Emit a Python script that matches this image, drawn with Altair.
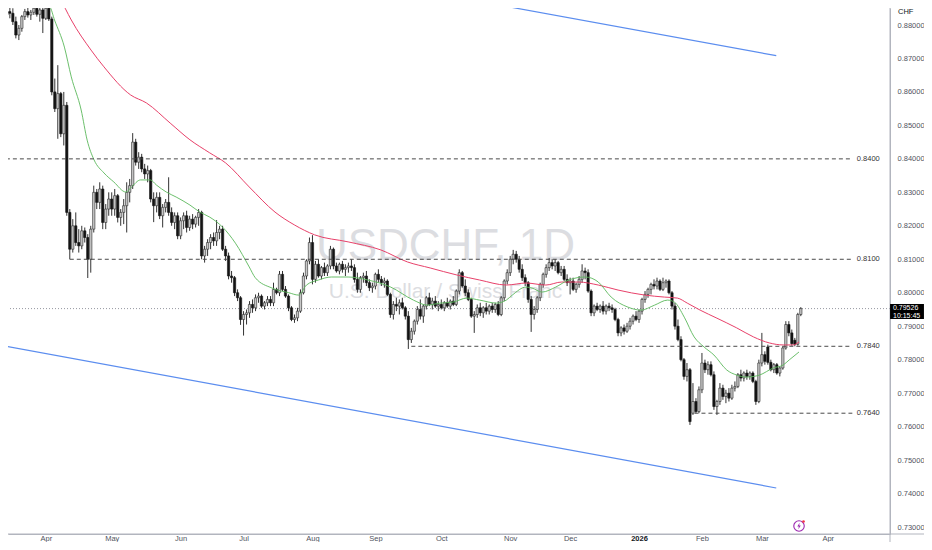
import altair as alt
import pandas as pd

# ---------------- daily OHLC (bar index 0 = 13 Mar 2025) ----------------
opens = [
0.8830,0.8840,0.8835,0.8810,0.8770,0.8790,0.8825,0.8840,0.8830,0.8838,
0.8850,0.8832,0.8845,0.8820,0.8850,0.8818,0.8600,0.8550,0.8595,0.8475,
0.8560,0.8240,0.8130,0.8200,0.8150,0.8140,0.8185,0.8165,0.8100,0.8190,
0.8300,0.8270,0.8310,0.8210,0.8250,0.8280,0.8250,0.8290,0.8225,0.8240,
0.8260,0.8300,0.8320,0.8450,0.8390,0.8405,0.8370,0.8355,0.8365,0.8280,
0.8260,0.8285,0.8230,0.8255,0.8270,0.8240,0.8210,0.8230,0.8170,0.8215,
0.8230,0.8195,0.8220,0.8205,0.8225,0.8240,0.8110,0.8130,0.8150,0.8165,
0.8155,0.8180,0.8190,0.8130,0.8110,0.8050,0.8045,0.8000,0.7985,0.7920,
0.7935,0.7940,0.7965,0.7955,0.7985,0.7990,0.7960,0.7970,0.7980,0.7970,
0.8010,0.8000,0.8055,0.8010,0.7990,0.7955,0.7920,0.7925,0.7945,0.8000,
0.8050,0.8095,0.8150,0.8040,0.8085,0.8050,0.8075,0.8060,0.8080,0.8130,
0.8080,0.8065,0.8085,0.8070,0.8075,0.8080,0.8075,0.8040,0.8010,0.8045,
0.8050,0.8030,0.8015,0.8020,0.8055,0.8040,0.8030,0.8035,0.7995,0.7935,
0.7965,0.7960,0.7970,0.7955,0.7930,0.7860,0.7885,0.7915,0.7950,0.7930,
0.7960,0.7985,0.7965,0.7975,0.7960,0.7965,0.7955,0.7970,0.7960,0.7975,
0.7965,0.8005,0.8060,0.8020,0.8000,0.7980,0.7930,0.7935,0.7955,0.7940,
0.7955,0.7945,0.7960,0.7950,0.7965,0.7935,0.7985,0.8035,0.8060,0.8100,
0.8115,0.8100,0.8070,0.8045,0.8030,0.7980,0.7935,0.7950,0.7985,0.8025,
0.8055,0.8075,0.8090,0.8080,0.8090,0.8060,0.8070,0.8040,0.8030,0.8035,
0.8010,0.8025,0.8040,0.8065,0.8060,0.8005,0.7940,0.7960,0.7950,0.7960,
0.7945,0.7960,0.7955,0.7950,0.7920,0.7880,0.7895,0.7885,0.7900,0.7915,
0.7930,0.7920,0.7945,0.7980,0.7995,0.8010,0.8025,0.8020,0.8035,0.8010,
0.8030,0.8035,0.8000,0.7960,0.7900,0.7860,0.7800,0.7750,0.7770,0.7640,
0.7675,0.7645,0.7710,0.7790,0.7770,0.7785,0.7755,0.7660,0.7675,0.7715,
0.7690,0.7700,0.7685,0.7715,0.7720,0.7755,0.7745,0.7760,0.7750,0.7760,
0.7735,0.7675,0.7790,0.7815,0.7838,0.7792,0.7770,0.7785,0.7760,0.7775,
0.7835,0.7905,0.7880,0.7858,0.7846,0.7935]

highs = [
0.8855,0.8858,0.8850,0.8825,0.8800,0.8830,0.8848,0.8855,0.8845,0.8860,
0.8862,0.8855,0.8858,0.8860,0.8862,0.8825,0.8640,0.8680,0.8600,0.8600,
0.8570,0.8250,0.8220,0.8240,0.8190,0.8200,0.8195,0.8175,0.8200,0.8320,
0.8310,0.8330,0.8320,0.8265,0.8300,0.8300,0.8310,0.8295,0.8250,0.8280,
0.8330,0.8340,0.8477,0.8460,0.8420,0.8415,0.8385,0.8380,0.8370,0.8300,
0.8300,0.8300,0.8265,0.8280,0.8345,0.8255,0.8240,0.8240,0.8225,0.8240,
0.8245,0.8230,0.8235,0.8230,0.8250,0.8245,0.8140,0.8160,0.8175,0.8180,
0.8217,0.8200,0.8200,0.8140,0.8120,0.8065,0.8050,0.8010,0.7990,0.7945,
0.7950,0.7975,0.7980,0.7995,0.8000,0.7995,0.7975,0.7990,0.7990,0.8030,
0.8015,0.8065,0.8065,0.8020,0.7995,0.7960,0.7935,0.7955,0.8010,0.8060,
0.8100,0.8165,0.8172,0.8095,0.8100,0.8080,0.8090,0.8085,0.8140,0.8135,
0.8090,0.8090,0.8095,0.8085,0.8090,0.8100,0.8085,0.8060,0.8050,0.8060,
0.8065,0.8040,0.8030,0.8060,0.8070,0.8050,0.8045,0.8040,0.8000,0.7975,
0.7985,0.7980,0.7985,0.7960,0.7945,0.7895,0.7920,0.7960,0.7980,0.7965,
0.7990,0.8000,0.7985,0.7990,0.7975,0.7980,0.7975,0.7985,0.7980,0.7990,
0.8010,0.8070,0.8065,0.8040,0.8010,0.7985,0.7945,0.7965,0.7970,0.7960,
0.7970,0.7965,0.7970,0.7970,0.7975,0.7990,0.8040,0.8070,0.8110,0.8128,
0.8125,0.8110,0.8085,0.8055,0.8035,0.7990,0.7960,0.7990,0.8030,0.8060,
0.8085,0.8104,0.8100,0.8100,0.8095,0.8080,0.8080,0.8055,0.8045,0.8045,
0.8030,0.8050,0.8085,0.8075,0.8070,0.8010,0.7965,0.7970,0.7965,0.7975,
0.7965,0.7970,0.7965,0.7955,0.7925,0.7900,0.7905,0.7910,0.7925,0.7935,
0.7945,0.7950,0.7985,0.8005,0.8015,0.8030,0.8040,0.8045,0.8040,0.8045,
0.8040,0.8040,0.8005,0.7970,0.7920,0.7870,0.7805,0.7790,0.7775,0.7730,
0.7685,0.7720,0.7820,0.7800,0.7795,0.7795,0.7765,0.7680,0.7730,0.7725,
0.7710,0.7715,0.7725,0.7735,0.7760,0.7770,0.7765,0.7770,0.7765,0.7765,
0.7740,0.7800,0.7880,0.7825,0.7845,0.7800,0.7790,0.7790,0.7780,0.7840,
0.7915,0.7915,0.7890,0.7865,0.7940,0.7957]

lows = [
0.8815,0.8820,0.8800,0.8760,0.8755,0.8780,0.8815,0.8822,0.8815,0.8830,
0.8825,0.8810,0.8776,0.8815,0.8812,0.8590,0.8540,0.8460,0.8465,0.8440,
0.8230,0.8100,0.8120,0.8140,0.8120,0.8130,0.8150,0.8044,0.8060,0.8180,
0.8250,0.8250,0.8190,0.8190,0.8230,0.8230,0.8230,0.8210,0.8200,0.8205,
0.8180,0.8270,0.8310,0.8380,0.8370,0.8360,0.8340,0.8330,0.8270,0.8211,
0.8240,0.8220,0.8195,0.8240,0.8230,0.8200,0.8190,0.8160,0.8160,0.8190,
0.8180,0.8185,0.8190,0.8195,0.8200,0.8100,0.8090,0.8110,0.8130,0.8140,
0.8140,0.8160,0.8125,0.8095,0.8040,0.8030,0.7990,0.7975,0.7904,0.7872,
0.7905,0.7925,0.7940,0.7945,0.7970,0.7955,0.7950,0.7960,0.7960,0.7960,
0.7995,0.7990,0.8005,0.7985,0.7945,0.7915,0.7910,0.7915,0.7940,0.7995,
0.8040,0.8085,0.8025,0.8030,0.8045,0.8040,0.8050,0.8050,0.8070,0.8070,
0.8060,0.8055,0.8060,0.8050,0.8060,0.8065,0.8030,0.8000,0.8000,0.8030,
0.8020,0.8005,0.8000,0.8010,0.8030,0.8020,0.8015,0.7990,0.7925,0.7920,
0.7945,0.7935,0.7950,0.7920,0.7832,0.7850,0.7875,0.7905,0.7920,0.7910,
0.7950,0.7960,0.7950,0.7955,0.7945,0.7950,0.7945,0.7955,0.7950,0.7960,
0.7960,0.7995,0.8015,0.7990,0.7975,0.7925,0.7880,0.7925,0.7930,0.7925,
0.7935,0.7935,0.7940,0.7940,0.7930,0.7930,0.7975,0.8025,0.8050,0.8085,
0.8090,0.8060,0.8035,0.8020,0.7970,0.7883,0.7920,0.7940,0.7975,0.8015,
0.8045,0.8065,0.8070,0.8065,0.8055,0.8050,0.8035,0.8020,0.7995,0.8005,
0.8000,0.8015,0.8030,0.8040,0.8000,0.7930,0.7930,0.7945,0.7940,0.7935,
0.7935,0.7945,0.7940,0.7915,0.7870,0.7870,0.7875,0.7880,0.7890,0.7905,
0.7915,0.7910,0.7935,0.7970,0.7985,0.7995,0.8010,0.8010,0.8005,0.8005,
0.8015,0.7995,0.7950,0.7890,0.7855,0.7795,0.7740,0.7735,0.7605,0.7635,
0.7640,0.7640,0.7700,0.7760,0.7755,0.7750,0.7650,0.7635,0.7665,0.7680,
0.7670,0.7675,0.7680,0.7705,0.7715,0.7735,0.7735,0.7740,0.7740,0.7730,
0.7665,0.7670,0.7780,0.7785,0.7785,0.7765,0.7760,0.7755,0.7750,0.7770,
0.7830,0.7870,0.7842,0.7840,0.7842,0.7930]

closes = [
0.8840,0.8835,0.8810,0.8770,0.8790,0.8825,0.8840,0.8830,0.8838,0.8850,
0.8832,0.8845,0.8820,0.8850,0.8818,0.8600,0.8550,0.8595,0.8475,0.8560,
0.8240,0.8130,0.8200,0.8150,0.8140,0.8185,0.8165,0.8100,0.8190,0.8300,
0.8270,0.8310,0.8210,0.8250,0.8280,0.8250,0.8290,0.8225,0.8240,0.8260,
0.8300,0.8320,0.8450,0.8390,0.8405,0.8370,0.8355,0.8365,0.8280,0.8260,
0.8285,0.8230,0.8255,0.8270,0.8240,0.8210,0.8230,0.8170,0.8215,0.8230,
0.8195,0.8220,0.8205,0.8225,0.8240,0.8110,0.8130,0.8150,0.8165,0.8155,
0.8180,0.8190,0.8130,0.8110,0.8050,0.8045,0.8000,0.7985,0.7920,0.7935,
0.7940,0.7965,0.7955,0.7985,0.7990,0.7960,0.7970,0.7980,0.7970,0.8010,
0.8000,0.8055,0.8010,0.7990,0.7955,0.7920,0.7925,0.7945,0.8000,0.8050,
0.8095,0.8150,0.8040,0.8085,0.8050,0.8075,0.8060,0.8080,0.8130,0.8080,
0.8065,0.8085,0.8070,0.8075,0.8080,0.8075,0.8040,0.8010,0.8045,0.8050,
0.8030,0.8015,0.8020,0.8055,0.8040,0.8030,0.8035,0.7995,0.7935,0.7965,
0.7960,0.7970,0.7955,0.7930,0.7860,0.7885,0.7915,0.7950,0.7930,0.7960,
0.7985,0.7965,0.7975,0.7960,0.7965,0.7955,0.7970,0.7960,0.7975,0.7965,
0.8005,0.8060,0.8020,0.8000,0.7980,0.7930,0.7935,0.7955,0.7940,0.7955,
0.7945,0.7960,0.7950,0.7965,0.7935,0.7985,0.8035,0.8060,0.8100,0.8115,
0.8100,0.8070,0.8045,0.8030,0.7980,0.7935,0.7950,0.7985,0.8025,0.8055,
0.8075,0.8090,0.8080,0.8090,0.8060,0.8070,0.8040,0.8030,0.8035,0.8010,
0.8025,0.8040,0.8065,0.8060,0.8005,0.7940,0.7960,0.7950,0.7960,0.7945,
0.7960,0.7955,0.7950,0.7920,0.7880,0.7895,0.7885,0.7900,0.7915,0.7930,
0.7920,0.7945,0.7980,0.7995,0.8010,0.8025,0.8020,0.8035,0.8010,0.8030,
0.8035,0.8000,0.7960,0.7900,0.7860,0.7800,0.7750,0.7770,0.7615,0.7675,
0.7645,0.7710,0.7790,0.7770,0.7785,0.7755,0.7660,0.7675,0.7715,0.7690,
0.7700,0.7685,0.7715,0.7720,0.7755,0.7745,0.7760,0.7750,0.7760,0.7735,
0.7675,0.7790,0.7815,0.7795,0.7792,0.7770,0.7785,0.7760,0.7775,0.7835,
0.7905,0.7880,0.7848,0.7846,0.7935,0.79526]

assert len(opens) == len(highs) == len(lows) == len(closes), (len(opens), len(highs), len(lows), len(closes))

# ---------------- moving averages ----------------
ma_fast_idx = [4, 9.3, 14.3, 15.9, 19.2, 21.5, 24.8, 26.8, 29.1, 32.4, 35.7, 39.7, 41.6, 44.6,
               47.9, 49.9, 53.2, 56.5, 61.1, 64.4, 67.7, 72, 76.3, 80.9, 82.9, 88.5, 94.1, 97.4,
               100, 104, 108.3, 113.9, 120.5, 128.1, 135.7, 140.3, 144.6, 148.9, 153.5, 157.8,
               163.4, 166.7, 168.7, 173.3, 175.3, 178.6, 183.2, 187.5, 193.1, 197.4, 201.7, 207.3,
               211.6, 216.2, 220.5, 222.8, 226.1, 229.4, 232.7, 236, 240.3, 243.6, 246.9, 251.2,
               255.8, 259.1, 261.1, 264.4]
ma_fast_val = [0.8880, 0.8866, 0.8854, 0.8815, 0.8734, 0.8645, 0.8546, 0.8456, 0.8397, 0.8358,
               0.8331, 0.8301, 0.8316, 0.8337, 0.8337, 0.8322, 0.8301, 0.8286, 0.8262, 0.8241,
               0.8226, 0.8196, 0.8148, 0.8077, 0.8045, 0.8014, 0.8000, 0.7993, 0.8023, 0.8038,
               0.8047, 0.8047, 0.8038, 0.8017, 0.7978, 0.7963, 0.7969, 0.7972, 0.7984, 0.7978,
               0.7969, 0.7978, 0.7993, 0.8017, 0.8014, 0.8002, 0.8017, 0.8038, 0.8047, 0.8032,
               0.7987, 0.7957, 0.7948, 0.7963, 0.7978, 0.7972, 0.7927, 0.7868, 0.7838, 0.7814,
               0.7769, 0.7754, 0.7748, 0.7754, 0.7775, 0.7784, 0.7799, 0.7823]
ma_slow_idx = [17.6, 21.5, 28.1, 32.4, 41.3, 46.6, 54.5, 61.1, 67.7, 73, 80.9, 89.5, 96.1, 102.7,
               113.9, 124.8, 133.7, 141.3, 150.2, 157.8, 166.7, 173.3, 179.9, 185.2, 190.8, 197.4,
               204, 212.9, 219.5, 223.8, 227.1, 231.4, 237, 243.6, 249.2, 254.5, 259.1, 262.4, 264.4]
ma_slow_val = [0.8884, 0.8815, 0.8725, 0.8675, 0.8591, 0.8567, 0.8507, 0.8457, 0.8418, 0.8388,
               0.8316, 0.8241, 0.8202, 0.8173, 0.8152, 0.8128, 0.8092, 0.8074, 0.8053, 0.8038,
               0.8023, 0.8029, 0.8023, 0.8032, 0.8032, 0.8023, 0.8008, 0.7993, 0.7987, 0.7984,
               0.7969, 0.7948, 0.7924, 0.7895, 0.7868, 0.7850, 0.7844, 0.7844, 0.7853]

# ---------------- drawings ----------------
level_vals = [0.8400, 0.8100, 0.7840, 0.7640]
level_text = ["0.8400", "0.8100", "0.7840", "0.7640"]
level_start = [-5, 21, 135, 229.5]
level_end = [282.2, 282.2, 282.2, 282.2]
level_label_idx = [283.7, 283.7, 283.7, 283.7]

chan_upper_idx = [155.1, 256.8]
chan_upper_val = [0.88747, 0.87083]
chan_lower_idx = [-0.6, 256.8]
chan_lower_val = [0.78408, 0.74166]

last_price = [0.79526]
last_price_text = ["0.79526"]
last_time_text = ["10:15:45"]

month_pos = [13, 35, 58, 79, 102, 123, 145, 168, 188, 211, 232, 252, 274]
month_lbl = ["Apr", "May", "Jun", "Jul", "Aug", "Sep", "Oct", "Nov", "Dec", "2026", "Feb", "Mar", "Apr"]
year_pos = 211

y_ticks = [0.73, 0.74, 0.75, 0.76, 0.77, 0.78, 0.79, 0.80, 0.81, 0.82, 0.83, 0.84, 0.85, 0.86, 0.87, 0.88]

wm_text = ["USDCHF, 1D", "U.S. Dollar / Swiss Franc"]
wm_idx = [146.4, 146.4]
wm_val = [0.80978, 0.79843]

unit_val = [0.88388]
icon_idx = [264.4]
icon_val = [0.73030]

X_DOMAIN = [2.046, 293.1]
Y_DOMAIN = [0.72791, 0.88508]

FONT = "Liberation Sans"
AXIS_TXT = "#50535e"
FRAME = "#b2b5be"

# ---------------- frames ----------------
bars = pd.DataFrame({"i": list(range(len(closes))), "o": opens, "h": highs, "l": lows, "c": closes})
bars["dir"] = ["up" if c >= o else "down" for o, c in zip(opens, closes)]

fast = pd.DataFrame({"i": ma_fast_idx, "v": ma_fast_val})
slow = pd.DataFrame({"i": ma_slow_idx, "v": ma_slow_val})
levels = pd.DataFrame({"i": level_start, "i2": level_end, "v": level_vals, "t": level_text,
                       "li": level_label_idx})
chan = pd.DataFrame({"i": chan_upper_idx + chan_lower_idx,
                     "v": chan_upper_val + chan_lower_val,
                     "g": ["up", "up", "low", "low"]})
price = pd.DataFrame({"v": last_price, "t": last_price_text, "tt": last_time_text})
wm = pd.DataFrame({"i": wm_idx, "v": wm_val, "t": wm_text})
unit = pd.DataFrame({"v": unit_val, "t": ["CHF"]})
icon = pd.DataFrame({"i": icon_idx, "v": icon_val})

month_expr = " : ".join(f"datum.value == {p} ? '{l}'" for p, l in zip(month_pos, month_lbl)) + " : ''"

xs = alt.Scale(domain=X_DOMAIN, nice=False, zero=False)
ys = alt.Scale(domain=Y_DOMAIN, nice=False, zero=False)

x_axis = alt.Axis(values=month_pos, labelExpr=month_expr, title=None, grid=False, ticks=False,
                  domainColor=FRAME, domainWidth=1,
                  labelColor={"condition": {"test": f"datum.value == {year_pos}", "value": "#131722"}, "value": AXIS_TXT},
                  labelFontSize=7.5, labelFont=FONT, labelPadding=4.5, labelBaseline="middle",
                  labelOverlap=False, labelFlush=False,
                  labelFontWeight={"condition": {"test": f"datum.value == {year_pos}", "value": "bold"}, "value": "normal"})
y_axis = alt.Axis(orient="right", values=y_ticks, format=".5f", title=None, grid=False, ticks=False,
                  domainColor=FRAME, domainWidth=1, labelColor=AXIS_TXT, labelFontSize=7.5,
                  labelFont=FONT, labelPadding=7, labelOverlap=False, labelFlush=False)


def X(f):
    return alt.X(f, type="quantitative", scale=xs, axis=x_axis)


def Y(f):
    return alt.Y(f, type="quantitative", scale=ys, axis=y_axis)


watermark = alt.Chart(wm).mark_text(font=FONT, color="#dcdde1", baseline="alphabetic",
                                    align="center", clip=True).encode(
    x=X("i"), y=Y("v"), text="t:N",
    size=alt.Size("t:N", scale=alt.Scale(domain=wm_text, range=[44, 21]), legend=None))

channel = alt.Chart(chan).mark_line(color="#5b8def", strokeWidth=1.2, clip=True).encode(
    x=X("i"), y=Y("v"), detail="g:N")

price_line = alt.Chart(price).mark_rule(color="#9598a1", strokeDash=[1, 2], strokeWidth=1).encode(
    y=Y("v"))

wicks = alt.Chart(bars).mark_rule(color="#333333", strokeWidth=1, clip=True).encode(
    x=X("i"), y=Y("l"), y2="h")

bodies = alt.Chart(bars).mark_bar(size=2.3, strokeWidth=0.6, clip=True).encode(
    x=X("i"), y=Y("o"), y2="c",
    fill=alt.Fill("dir:N", scale=alt.Scale(domain=["up", "down"], range=["#c8c8c8", "#141414"]), legend=None),
    stroke=alt.Stroke("dir:N", scale=alt.Scale(domain=["up", "down"], range=["#2a2a2a", "#141414"]), legend=None))

slow_line = alt.Chart(slow).mark_line(color="#e8416a", strokeWidth=1, interpolate="monotone", clip=True).encode(
    x=X("i"), y=Y("v"))
fast_line = alt.Chart(fast).mark_line(color="#5cb85c", strokeWidth=1, opacity=0.9, interpolate="monotone", clip=True).encode(
    x=X("i"), y=Y("v"))

level_rules = alt.Chart(levels).mark_rule(color="#4a4a4a", strokeDash=[4, 3], strokeWidth=1, clip=True).encode(
    x=X("i"), x2="i2", y=Y("v"))
level_labels = alt.Chart(levels).mark_text(font=FONT, fontSize=7.5, color="#333333", align="left",
                                           baseline="middle").encode(
    x=X("li"), y=Y("v"), text="t:N")

# pane frame continuing under the price scale (as in the platform layout)
frame_h = alt.Chart(unit).mark_rule(color=FRAME, strokeWidth=1, clip=False).encode(
    x=alt.value(0), x2=alt.value(916), y=alt.value(526))
frame_v = alt.Chart(unit).mark_rule(color=FRAME, strokeWidth=1, clip=False).encode(
    x=alt.value(882), y=alt.value(0), y2=alt.value(534))

price_box = alt.Chart(price).mark_point(shape="M-1.13,-0.5L1.13,-0.5L1.13,0.5L-1.13,0.5Z", filled=True,
                                        color="#000000", opacity=1, size=900, yOffset=3, clip=False).encode(
    x=alt.value(899), y=Y("v"))
price_txt = alt.Chart(price).mark_text(font=FONT, fontSize=7, color="white", align="left",
                                       baseline="middle", dy=-0.5).encode(
    x=alt.value(885), y=Y("v"), text="t:N")
time_txt = alt.Chart(price).mark_text(font=FONT, fontSize=7, color="white", align="left",
                                      baseline="middle", dy=7).encode(
    x=alt.value(885), y=Y("v"), text="tt:N")

unit_txt = alt.Chart(unit).mark_text(font=FONT, fontSize=7.5, color="#131722", align="left",
                                     baseline="middle").encode(
    x=alt.value(890), y=Y("v"), text="t:N")

icon_ring = alt.Chart(icon).mark_point(shape="circle", filled=False, color="#9c27b0", strokeWidth=1.1,
                                       size=110, opacity=1).encode(x=X("i"), y=Y("v"))
icon_bolt = alt.Chart(icon).mark_point(shape="M0.2,-1L-0.55,0.15L-0.05,0.15L-0.2,1L0.55,-0.15L0.05,-0.15Z",
                                       filled=True, color="#9c27b0", size=40, opacity=1).encode(x=X("i"), y=Y("v"))
icon_dot = alt.Chart(icon).mark_point(shape="circle", filled=True, color="#f23645", size=7, opacity=1,
                                      xOffset=4.5, yOffset=-4.5).encode(x=X("i"), y=Y("v"))

chart = alt.layer(
    watermark, channel, price_line, wicks, bodies, slow_line, fast_line,
    level_rules, level_labels, frame_h, frame_v, price_box, price_txt, time_txt, unit_txt,
    icon_ring, icon_bolt, icon_dot
).properties(
    width=882, height=526,
    autosize=alt.AutoSizeParams(type="none"),
    padding={"left": 0, "top": 0, "right": 34, "bottom": 8},
    background="white",
).configure_view(stroke=None)

chart.save("out.html", embed_options={"renderer": "svg", "actions": False})
